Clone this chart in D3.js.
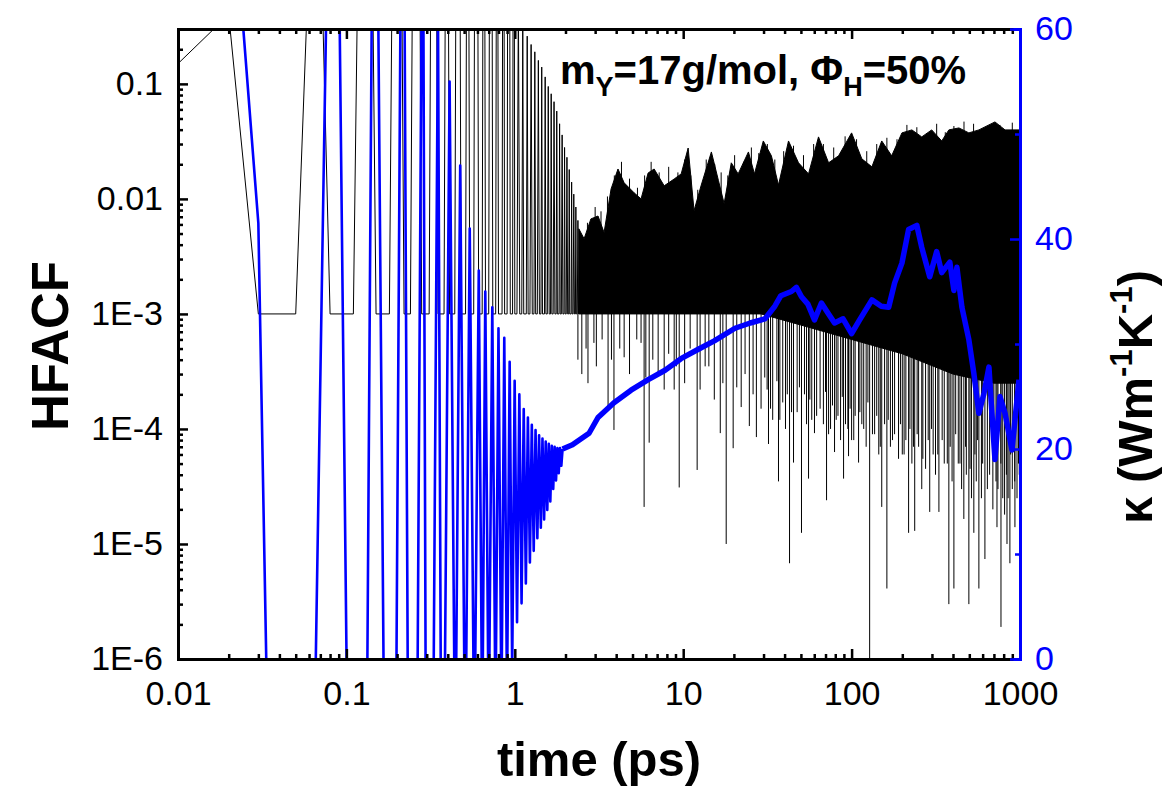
<!DOCTYPE html>
<html>
<head>
<meta charset="utf-8">
<script src="https://cdn.jsdelivr.net/npm/d3@7"></script>
<style>
  body { margin: 0; background: #fff; }
  svg text { font-family: "Liberation Sans", Arial, sans-serif; }
</style>
</head>
<body>
<svg id="chart" width="1169" height="793"></svg>
<script>
// HFACF (black, left log axis) - early oscillation vertices, time in ps
var hfacfT = [
  0.01, 0.02, 0.03, 0.05, 0.06, 0.07, 0.08, 0.11, 0.12, 0.14, 0.15, 0.18, 0.19, 0.21, 0.22, 0.24,
  0.25, 0.27, 0.28, 0.31, 0.32, 0.34, 0.35, 0.38, 0.39, 0.40, 0.41, 0.44, 0.45, 0.47, 0.48, 0.51,
  0.52, 0.53, 0.54, 0.57, 0.58, 0.60, 0.61, 0.64, 0.65, 0.66, 0.67, 0.70, 0.71, 0.73, 0.74, 0.77,
  0.78, 0.79, 0.80, 0.84, 0.85, 0.86, 0.87, 0.90, 0.91, 0.93, 0.94, 0.97, 0.98, 0.99, 1.00, 1.03,
  1.05, 1.07, 1.10, 1.115, 1.13, 1.17, 1.185, 1.20, 1.23, 1.25, 1.27, 1.30, 1.315, 1.33, 1.36,
  1.38, 1.40, 1.43, 1.445, 1.46, 1.50, 1.515, 1.53, 1.56, 1.58, 1.60, 1.63, 1.645, 1.66, 1.69,
  1.71, 1.73, 1.76, 1.775, 1.79, 1.83, 1.845, 1.86, 1.89, 1.91, 1.93, 1.96, 1.975, 1.99, 2.02,
  2.04, 2.06, 2.09, 2.105, 2.12, 2.16, 2.175, 2.19, 2.22, 2.24, 2.26, 2.29, 2.305, 2.32, 2.35,
  2.37, 2.39
]
var hfacfV = [
  0.15, 0.4, 0.001, 0.001, 1.3, 3, 0.001, 0.001, 20, 20, 0.001, 0.001, 20, 20, 0.001, 0.001,
  20, 20, 0.001, 0.001, 20, 20, 0.001, 0.001, 20, 20, 0.001, 0.001, 20, 20, 0.001, 0.001,
  20, 20, 0.001, 0.001, 20, 20, 0.001, 0.001, 20, 20, 0.001, 0.001, 20, 20, 0.001, 0.001,
  20, 20, 0.001, 0.001, 20, 20, 0.001, 0.001, 20, 20, 0.001, 0.001, 20, 20, 0.001, 0.001,
  0.6, 0.001, 0.001, 0.32, 0.001, 0.001, 0.26, 0.001, 0.001, 0.22, 0.001, 0.001, 0.19, 0.001, 0.001,
  0.16, 0.001, 0.001, 0.14, 0.001, 0.001, 0.115, 0.001, 0.001, 0.095, 0.001, 0.001, 0.082, 0.001, 0.001,
  0.07, 0.001, 0.001, 0.058, 0.001, 0.001, 0.045, 0.001, 0.001, 0.036, 0.001, 0.001, 0.028, 0.001, 0.001,
  0.023, 0.001, 0.001, 0.018, 0.001, 0.001, 0.014, 0.001, 0.001, 0.011, 0.001, 0.001, 0.0085, 0.001, 0.001,
  0.0065, 0.001
]

// HFACF noise band after 2.4 ps: upper envelope
var bandT = [2.40, 2.58, 2.83, 3.12, 3.39, 3.73, 4.10, 4.46, 5.11, 5.62, 6.19, 6.72, 7.71, 8.84, 9.73,
  10.7, 11.6, 12.8, 14.7, 16.2, 17.5, 19.3, 21.2, 24.4, 26.5, 29.9, 33.4, 36.8, 42.2, 48.4, 55.5,
  63.6, 73.0, 83.7, 100, 115, 132, 151, 173, 199, 228, 261, 299, 343, 378, 434, 497, 570, 710,
  815, 986, 1000]
var bandHi = [0.0055, 0.0045, 0.0067, 0.0071, 0.0051, 0.0122, 0.0182, 0.0138, 0.0113, 0.0100, 0.0168,
  0.0182, 0.0130, 0.0149, 0.0165, 0.0277, 0.0079, 0.0132, 0.0256, 0.0144, 0.0091, 0.0206, 0.0165,
  0.0256, 0.0165, 0.0319, 0.0237, 0.0132, 0.0319, 0.0206, 0.0165, 0.0346, 0.0206, 0.0237, 0.0375,
  0.0223, 0.0190, 0.0319, 0.0237, 0.0375, 0.0398, 0.0346, 0.0398, 0.0319, 0.0398, 0.0414, 0.0375,
  0.0398, 0.0467, 0.0398, 0.0398, 0.0398]
// lower edge of the solid part of the band
var floorT = [2.40, 29, 50, 100, 200, 400, 700, 1000]
var floorV = [0.001, 0.001, 0.0008, 0.0006, 0.00045, 0.0003, 0.00025, 0.00025]

// thin upward spikes on top of the band
var peakT = [2.7, 3.0, 3.25, 3.55, 3.9, 4.3, 4.8, 5.35, 5.9, 6.45, 7.2, 8.2, 9.3, 10.2, 11.1, 12.2,
  13.7, 15.4, 16.8, 18.4, 20.2, 22.8, 25.4, 28.1, 31.6, 35.0, 39.5, 45.2, 51.8, 59.5, 68.0, 78.3,
  91.5, 107, 123, 141, 162, 186, 213, 244, 280, 320, 360, 405, 465, 530, 640, 760, 900]
var peakV = [0.0062, 0.0085, 0.0078, 0.0105, 0.016, 0.021, 0.015, 0.0125, 0.016, 0.021, 0.017, 0.019,
  0.017, 0.022, 0.016, 0.012, 0.022, 0.020, 0.017, 0.016, 0.024, 0.021, 0.028, 0.025, 0.030, 0.022,
  0.026, 0.029, 0.024, 0.030, 0.030, 0.028, 0.035, 0.033, 0.026, 0.030, 0.034, 0.033, 0.044, 0.042,
  0.037, 0.045, 0.038, 0.043, 0.047, 0.045, 0.043, 0.044, 0.046]

// downward spikes of HFACF below the band
var dipT = [2.37, 2.72, 2.95, 3.58, 3.88, 4.46, 5.62, 5.86, 6.28, 7.71, 8.84, 9.47, 12.1, 13.5, 16.6,
  18.0, 19.8, 22.1, 24.7, 27.2, 32.1, 36.8, 42.8, 45.2, 50.4, 55.5, 60.2, 71.0, 79.2, 89.6, 95.9,
  110, 128, 151, 162, 190, 218, 237, 261, 291, 330, 378, 405, 464, 497, 532, 570, 619, 730, 771,
  837, 871, 933,
  2.5, 2.65, 3.05, 3.3, 3.75, 4.2, 4.8, 5.3, 6.0, 6.6, 7.1, 8.2, 9.1, 10.2, 11.0, 12.6, 14.2, 15.3,
  17.2, 20.8, 23.3, 26.0, 29.0, 30.5, 34.0, 39.0, 40.5, 47.5, 52.5, 58, 65, 68, 75, 83, 86, 92, 100,
  105, 118, 122, 137, 145, 157, 170, 180, 200, 210, 228, 250, 275, 305, 315, 355, 395, 430, 450,
  480, 515, 550, 590, 640, 690, 740, 790, 810, 850, 900, 960, 990,
  31.5, 33, 36, 37.5, 41.5, 44, 49, 54, 56.5, 62, 70, 73, 77, 81, 88, 95, 98, 103, 112, 115, 125,
  133, 141, 148, 165, 175, 195, 205, 222, 233, 245, 265, 285, 298, 325, 345, 370, 385, 415, 440,
  475, 505, 540, 560, 600, 660, 700, 720, 770, 830, 880, 930, 980]
var dipV = [4.0e-4, 2.5e-4, 5.6e-4, 1.55e-4, 9.8e-5, 4.2e-4, 5.6e-4, 2.1e-5, 7.6e-5, 2.2e-4, 2.2e-4,
  3.1e-5, 4.4e-5, 3.5e-4, 9.2e-5, 1.0e-5, 6.8e-5, 1.55e-4, 1.06e-4, 8.5e-5, 7.4e-5, 3.5e-5, 6.8e-6,
  5.1e-5, 1.25e-5, 3.7e-5, 9.2e-5, 2.4e-5, 6.3e-5, 3.7e-5, 5.8e-5, 5.1e-5, 9e-7, 2.1e-5, 4.1e-6,
  5.5e-5, 1.25e-5, 1.3e-5, 3.0e-5, 1.9e-5, 1.9e-5, 3.0e-6, 4.1e-6, 1.65e-5, 3.0e-6, 1.25e-5, 4.1e-6,
  7.4e-6, 1.4e-5, 1.9e-6, 1.0e-5, 6.8e-6, 1.4e-5,
  3e-4, 5e-4, 3.5e-4, 6e-4, 4e-4, 5e-4, 3e-4, 6e-4, 2.8e-4, 4e-4, 3e-4, 4.5e-4, 3.5e-4, 2.5e-4, 5e-4,
  2.2e-4, 3.5e-4, 1.8e-4, 2.5e-4, 2.3e-4, 3e-4, 2e-4, 1.5e-4, 2.8e-4, 1.2e-4, 1.7e-4, 1e-4, 1.4e-4,
  2e-4, 1.2e-4, 1.5e-4, 1.1e-4, 1e-4, 1.3e-4, 8e-5, 1.1e-4, 8e-5, 1.3e-4, 1e-4, 7e-5, 9e-5, 6e-5,
  1.1e-4, 7e-5, 9e-5, 6e-5, 8e-5, 5e-5, 7e-5, 4.5e-5, 6e-5, 4e-5, 5e-5, 3.5e-5, 5e-5, 3e-5, 4e-5,
  2.5e-5, 3.5e-5, 2.5e-5, 3e-5, 2e-5, 3e-5, 2.5e-5, 1.8e-5, 2.5e-5, 3e-5, 2.5e-5, 4e-5,
  2.2e-4, 1.5e-4, 2.6e-4, 1.2e-4, 2.0e-4, 1.4e-4, 2.3e-4, 1.1e-4, 1.8e-4, 1.3e-4, 2.1e-4, 9e-5,
  1.6e-4, 1.2e-4, 1.9e-4, 1.0e-4, 1.5e-4, 8e-5, 1.4e-4, 1.1e-4, 1.7e-4, 9e-5, 1.3e-4, 7e-5, 1.2e-4,
  8e-5, 1.1e-4, 6e-5, 1.0e-4, 7e-5, 9e-5, 5.5e-5, 8e-5, 1.0e-4, 6e-5, 8e-5, 5e-5, 7e-5, 9e-5, 5e-5,
  7e-5, 4.5e-5, 6e-5, 8e-5, 5e-5, 4e-5, 6e-5, 3.5e-5, 5e-5, 4e-5, 6e-5, 3.5e-5, 5e-5]

// thermal conductivity kappa (blue, right axis) - early oscillation
var kappaOscT = [0.01, 0.02, 0.03, 0.04, 0.05, 0.0655, 0.076, 0.083, 0.091, 0.1005, 0.117, 0.133,
  0.1415, 0.148, 0.1545, 0.1665, 0.183, 0.198, 0.2095, 0.215, 0.2215, 0.2315, 0.248, 0.2645, 0.2795,
  0.283, 0.2865, 0.2955, 0.313, 0.3295, 0.35, 0.3635, 0.38, 0.41, 0.443, 0.474, 0.508, 0.54, 0.575,
  0.611, 0.641, 0.668, 0.70, 0.735, 0.768, 0.80, 0.833, 0.866, 0.899, 0.932, 0.965, 0.998, 1.031,
  1.064, 1.097, 1.13, 1.163, 1.196, 1.229, 1.262, 1.295, 1.328, 1.361, 1.394, 1.427, 1.46, 1.493,
  1.526, 1.559, 1.592, 1.625, 1.658, 1.691, 1.724, 1.757, 1.79, 1.823, 1.856, 1.889, 1.922]
var kappaOscV = [95, 78, 41.5, -69, -80, -2, 62, 75, 62, -2, -15, -2, 62, 70, 62, -2, -15, -2, 62, 66,
  62, -2, -15, -2, 62, 63, 62, -2, -15, -2, 61, -2, -12, 55, -12, 47, -12, 41, -10, 37, -8, 35, -8,
  33.5, -6, 31.5, -5, 30.6, -4, 28.3, -1, 26.5, 3.5, 25.2, 5.3, 23.8, 7.2, 23.0, 9.2, 22.3, 10.3,
  21.8, 11.5, 21.3, 12.5, 21.0, 13.3, 20.7, 14.2, 20.5, 15.0, 20.3, 16.2, 20.2, 17.0, 20.1, 17.7,
  20.1, 18.4, 20.0]
// kappa after convergence
var kappaT = [1.922, 2.2, 2.76, 3.12, 3.88, 4.9, 6.2, 7.8, 9.7, 12.3, 15.3, 20.3, 25.0, 30.6, 35.0,
  38.0, 43.9, 47.0, 50.4, 55.0, 60.2, 66.2, 72, 79.2, 89, 100, 111.6, 132, 150, 166, 180, 199, 218,
  244, 261, 291, 320, 343, 383, 405, 422, 452, 497, 532, 570, 611, 654, 681, 710, 760, 815, 896, 986]
var kappaV = [20.0, 20.4, 21.5, 23.0, 24.4, 25.6, 26.6, 27.5, 28.6, 29.5, 30.3, 31.5, 32.0, 32.4, 33.6,
  34.6, 35.0, 35.4, 34.5, 33.8, 32.3, 33.9, 33.0, 32.0, 32.4, 31.0, 32.3, 34.2, 33.6, 33.5, 35.8,
  37.7, 40.9, 41.3, 39.2, 36.4, 38.8, 36.8, 37.8, 35.1, 37.3, 33.5, 30.4, 27.2, 23.4, 25.3, 27.8,
  23.4, 19.0, 25.0, 23.4, 19.9, 26.6]

// axis ticks
var xTicks = [0.01, 0.1, 1, 10, 100, 1000]
var xTickLabels = ['0.01', '0.1', '1', '10', '100', '1000']
var yTicks = [0.1, 0.01, 1e-3, 1e-4, 1e-5, 1e-6]
var yTickLabels = ['0.1', '0.01', '1E-3', '1E-4', '1E-5', '1E-6']
var kTicks = [0, 20, 40, 60]
var kMinorTicks = [10, 30, 50]

var BLUE = '#0000ff'
var plotL = 178, plotR = 1020, plotT = 29, plotB = 659

var x = d3.scaleLog().domain([0.01, 1000]).range([plotL, plotR])
var y = d3.scaleLog().domain([1e-6, 0.3]).range([plotB, plotT])
var yk = d3.scaleLinear().domain([0, 60]).range([plotB, plotT])

var svg = d3.select('#chart')

svg.append('defs').append('clipPath').attr('id', 'plotClip')
  .append('rect')
  .attr('x', plotL).attr('y', plotT)
  .attr('width', plotR - plotL).attr('height', plotB - plotT)

var plot = svg.append('g').attr('clip-path', 'url(#plotClip)')

var lineL = d3.line().x(function (d) { return x(d[0]) }).y(function (d) { return y(d[1]) })
var lineK = d3.line().x(function (d) { return x(d[0]) }).y(function (d) { return yk(d[1]) })

// black HFACF early part
plot.append('path')
  .attr('d', lineL(d3.zip(hfacfT, hfacfV)))
  .attr('fill', 'none')
  .attr('stroke', '#000')
  .attr('stroke-width', 1)

// noisy band
var upper = d3.zip(bandT, bandHi)
var lower = d3.zip(floorT, floorV).reverse()
plot.append('path')
  .attr('d', lineL(upper.concat(lower)) + 'Z')
  .attr('fill', '#000')
  .attr('stroke', '#000')
  .attr('stroke-width', 1)

// thin spikes, up and down from the 1E-3 level
function spikes (cls, ts, vs) {
  plot.selectAll('line.' + cls)
    .data(d3.zip(ts, vs))
    .enter().append('line')
    .attr('class', cls)
    .attr('x1', function (d) { return x(d[0]) })
    .attr('x2', function (d) { return x(d[0]) })
    .attr('y1', y(1e-3))
    .attr('y2', function (d) { return y(d[1]) })
    .attr('stroke', '#000')
    .attr('stroke-width', 1)
}
spikes('peak', peakT, peakV)
spikes('dip', dipT, dipV)

// blue kappa
plot.append('path')
  .attr('d', lineK(d3.zip(kappaOscT, kappaOscV)))
  .attr('fill', 'none')
  .attr('stroke', BLUE)
  .attr('stroke-width', 2.6)
  .attr('stroke-linejoin', 'round')

plot.append('path')
  .attr('d', lineK(d3.zip(kappaT, kappaV)))
  .attr('fill', 'none')
  .attr('stroke', BLUE)
  .attr('stroke-width', 5.5)
  .attr('stroke-linejoin', 'round')

// axes
var fontTick = 34
var xMinor = x.ticks().filter(function (v) { return xTicks.indexOf(v) < 0 })
var yMinor = y.ticks().filter(function (v) { return yTicks.indexOf(v) < 0 })

function styleAxis (g, color) {
  g.attr('font-size', fontTick).attr('font-family', '"Liberation Sans", Arial, sans-serif')
  g.selectAll('.tick line').attr('stroke', color).attr('stroke-width', 2.5)
  g.selectAll('.tick text').attr('fill', color)
  g.select('.domain').attr('stroke', color).attr('stroke-width', 3).attr('stroke-linecap', 'square')
}

// bottom
svg.append('g').attr('transform', 'translate(0,' + plotB + ')')
  .call(d3.axisBottom(x).tickValues(xMinor).tickSize(-5).tickFormat(''))
  .call(styleAxis, '#000')
svg.append('g').attr('transform', 'translate(0,' + plotB + ')')
  .call(d3.axisBottom(x).tickValues(xTicks).tickSizeInner(-10).tickSizeOuter(0).tickPadding(22)
    .tickFormat(function (d, i) { return xTickLabels[i] }))
  .call(styleAxis, '#000')

// top
svg.append('g').attr('transform', 'translate(0,' + plotT + ')')
  .call(d3.axisTop(x).tickValues(xMinor).tickSize(-5).tickFormat(''))
  .call(styleAxis, '#000')
svg.append('g').attr('transform', 'translate(0,' + plotT + ')')
  .call(d3.axisTop(x).tickValues(xTicks).tickSizeInner(-10).tickSizeOuter(0).tickFormat(''))
  .call(styleAxis, '#000')

// left
svg.append('g').attr('transform', 'translate(' + plotL + ',0)')
  .call(d3.axisLeft(y).tickValues(yMinor).tickSize(-5).tickFormat(''))
  .call(styleAxis, '#000')
svg.append('g').attr('transform', 'translate(' + plotL + ',0)')
  .call(d3.axisLeft(y).tickValues(yTicks).tickSizeInner(-10).tickSizeOuter(0).tickPadding(15)
    .tickFormat(function (d, i) { return yTickLabels[i] }))
  .call(styleAxis, '#000')

// right (blue)
svg.append('g').attr('transform', 'translate(' + plotR + ',0)')
  .call(d3.axisRight(yk).tickValues(kMinorTicks).tickSize(-5).tickFormat(''))
  .call(styleAxis, BLUE)
svg.append('g').attr('transform', 'translate(' + plotR + ',0)')
  .call(d3.axisRight(yk).tickValues(kTicks).tickSizeInner(-10).tickSizeOuter(0).tickPadding(15))
  .call(styleAxis, BLUE)

// axis titles
svg.append('text')
  .attr('x', 599).attr('y', 776)
  .attr('text-anchor', 'middle')
  .attr('font-size', 49).attr('font-weight', 'bold')
  .text('time (ps)')

svg.append('text')
  .attr('transform', 'translate(68,346) rotate(-90)')
  .attr('text-anchor', 'middle')
  .attr('font-size', 51).attr('font-weight', 'bold')
  .text('HFACF')

var kTitle = svg.append('text')
  .attr('transform', 'translate(1152,397) rotate(-90)')
  .attr('text-anchor', 'middle')
  .attr('font-size', 49).attr('font-weight', 'bold')
kTitle.append('tspan').text('\u03BA (Wm')
kTitle.append('tspan').attr('dy', -20).attr('font-size', 31).text('-1')
kTitle.append('tspan').attr('dy', 20).text('K')
kTitle.append('tspan').attr('dy', -20).attr('font-size', 31).text('-1')
kTitle.append('tspan').attr('dy', 20).text(')')

// annotation
var note = svg.append('text')
  .attr('x', 560).attr('y', 84)
  .attr('font-size', 40).attr('font-weight', 'bold')
note.append('tspan').text('m')
note.append('tspan').attr('dy', 12).attr('font-size', 27).text('Y')
note.append('tspan').attr('dy', -12).text('=17g/mol, \u03A6')
note.append('tspan').attr('dy', 12).attr('font-size', 27).text('H')
note.append('tspan').attr('dy', -12).text('=50%')
</script>
</body>
</html>
